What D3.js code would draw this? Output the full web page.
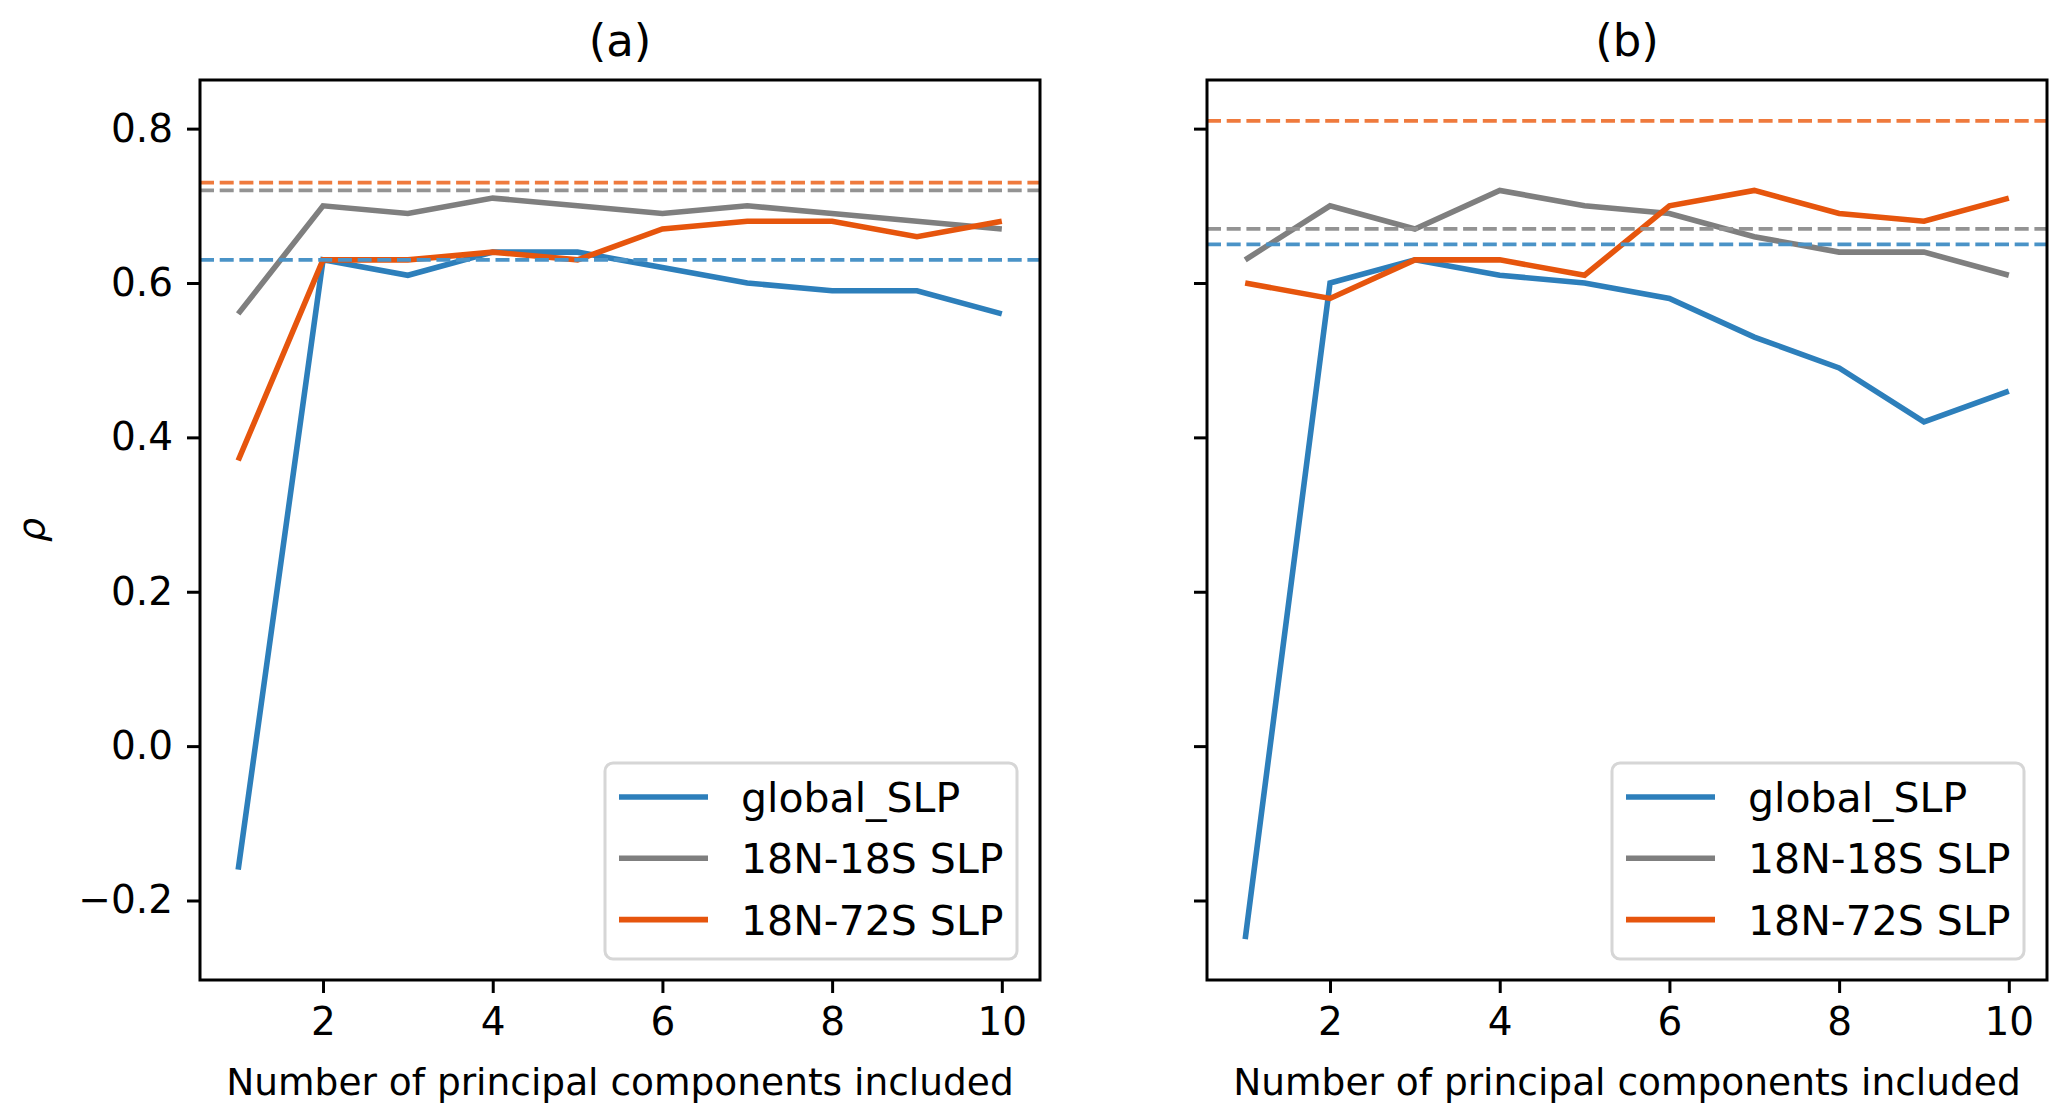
<!DOCTYPE html>
<html>
<head>
<meta charset="utf-8">
<script src="https://cdn.jsdelivr.net/npm/d3@7"></script>
<style>
  body { margin: 0; background: #fff; }
  text { font-family: "DejaVu Sans", sans-serif; }
</style>
</head>
<body>
<div id="chart"></div>
<script>
// Figure size
var width = 2067;
var height = 1120;

// Data
var pcs = [1, 2, 3, 4, 5, 6, 7, 8, 9, 10];
var seriesNames = ["global_SLP", "18N-18S SLP", "18N-72S SLP"];
var seriesColors = ["#2d7fbb", "#7f7f7f", "#e6550d"];
var refColors = ["#4a93c7", "#939393", "#ef7a3d"];

// panel (a)
var aGlobal = [-0.16, 0.63, 0.61, 0.64, 0.64, 0.62, 0.60, 0.59, 0.59, 0.56];
var aTrop = [0.56, 0.70, 0.69, 0.71, 0.70, 0.69, 0.70, 0.69, 0.68, 0.67];
var aSouth = [0.37, 0.63, 0.63, 0.64, 0.63, 0.67, 0.68, 0.68, 0.66, 0.68];
var aRef = [0.63, 0.72, 0.73];

// panel (b)
var bGlobal = [-0.25, 0.60, 0.63, 0.61, 0.60, 0.58, 0.53, 0.49, 0.42, 0.46];
var bTrop = [0.63, 0.70, 0.67, 0.72, 0.70, 0.69, 0.66, 0.64, 0.64, 0.61];
var bSouth = [0.60, 0.58, 0.63, 0.63, 0.61, 0.70, 0.72, 0.69, 0.68, 0.71];
var bRef = [0.65, 0.67, 0.81];

var titles = ["(a)", "(b)"];
var xTicks = [2, 4, 6, 8, 10];
var yTicks = [-0.2, 0.0, 0.2, 0.4, 0.6, 0.8];
var xLabel = "Number of principal components included";

var panels = [
  { title: titles[0], left: 200, series: [aGlobal, aTrop, aSouth], refs: aRef, yLabels: true },
  { title: titles[1], left: 1207, series: [bGlobal, bTrop, bSouth], refs: bRef, yLabels: false }
];

var plotW = 840;
var plotTop = 80;
var plotBottom = 980;

var svg = d3.select("#chart").append("svg")
    .attr("width", width)
    .attr("height", height);

var y = d3.scaleLinear()
    .domain([-0.303, 0.863])
    .range([plotBottom, plotTop]);

panels.forEach(function(p) {
  var x = d3.scaleLinear()
      .domain([0.55, 10.45])
      .range([p.left, p.left + plotW]);

  var g = svg.append("g");

  var line = d3.line()
      .x(function(d, i) { return x(pcs[i]); })
      .y(function(d) { return y(d); });

  // solid series
  p.series.forEach(function(s, k) {
    g.append("path")
      .datum(s)
      .attr("d", line)
      .attr("fill", "none")
      .attr("stroke", seriesColors[k])
      .attr("stroke-width", 5.6)
      .attr("stroke-linejoin", "miter")
      .attr("stroke-linecap", "butt");
  });

  // dashed reference lines
  p.refs.forEach(function(r, k) {
    g.append("line")
      .attr("x1", x.range()[0])
      .attr("x2", x.range()[1])
      .attr("y1", y(r))
      .attr("y2", y(r))
      .attr("stroke", refColors[k])
      .attr("stroke-width", 3.8)
      .attr("stroke-dasharray", "14,5.7");
  });

  // axes
  var xAxis = d3.axisBottom(x)
      .tickValues(xTicks)
      .tickSize(13)
      .tickPadding(14)
      .tickFormat(d3.format("d"));

  var yAxis = d3.axisLeft(y)
      .tickValues(yTicks)
      .tickSize(13)
      .tickPadding(14)
      .tickFormat(p.yLabels ? d3.format(".1f") : "");

  var gx = g.append("g")
      .attr("transform", "translate(0," + plotBottom + ")")
      .call(xAxis);
  var gy = g.append("g")
      .attr("transform", "translate(" + p.left + ",0)")
      .call(yAxis);

  [gx, gy].forEach(function(ax) {
    ax.select(".domain").remove();
    ax.selectAll(".tick line").attr("stroke", "#000").attr("stroke-width", 3);
    ax.selectAll(".tick text")
      .attr("fill", "#000")
      .style("font-size", "39px")
      .style("font-family", "DejaVu Sans");
  });

  // frame
  g.append("rect")
    .attr("x", p.left)
    .attr("y", plotTop)
    .attr("width", plotW)
    .attr("height", plotBottom - plotTop)
    .attr("fill", "none")
    .attr("stroke", "#000")
    .attr("stroke-width", 3);

  // title
  g.append("text")
    .attr("x", p.left + plotW / 2)
    .attr("y", 56)
    .attr("text-anchor", "middle")
    .style("font-size", "45px")
    .text(p.title);

  // x label
  g.append("text")
    .attr("x", p.left + plotW / 2)
    .attr("y", 1095)
    .attr("text-anchor", "middle")
    .style("font-size", "37.5px")
    .text(xLabel);

  // legend
  var lg = g.append("g")
      .attr("transform", "translate(" + (p.left + plotW - 435) + ",763)");
  lg.append("rect")
    .attr("width", 412)
    .attr("height", 196)
    .attr("rx", 8)
    .attr("fill", "#fff")
    .attr("fill-opacity", 0.8)
    .attr("stroke", "#d6d6d6")
    .attr("stroke-width", 3);
  seriesNames.forEach(function(name, k) {
    var ry = 34 + k * 61.3;
    lg.append("line")
      .attr("x1", 14)
      .attr("x2", 103)
      .attr("y1", ry)
      .attr("y2", ry)
      .attr("stroke", seriesColors[k])
      .attr("stroke-width", 5.6);
    lg.append("text")
      .attr("x", 136)
      .attr("y", ry + 15)
      .style("font-size", "41px")
      .text(name);
  });
});

// y label
svg.append("text")
  .attr("transform", "translate(44,530) rotate(-90)")
  .attr("text-anchor", "middle")
  .style("font-size", "38px")
  .style("font-style", "italic")
  .text("ρ");
</script>
</body>
</html>
